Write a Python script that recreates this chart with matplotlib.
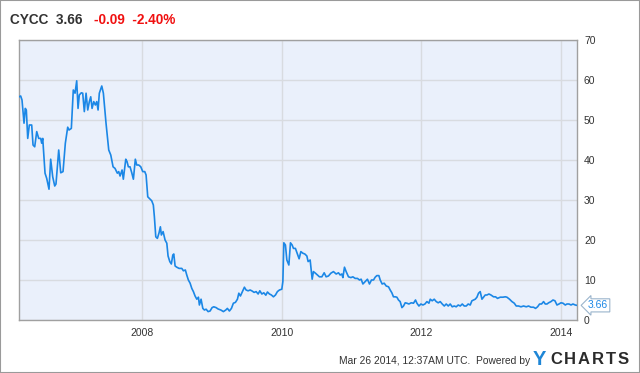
import matplotlib
matplotlib.use("Agg")
import matplotlib.pyplot as plt
from matplotlib.patches import Rectangle

plt.rcParams["font.family"] = ["Liberation Sans", "DejaVu Sans"]

TICKER = "CYCC"
LAST = 3.66
CHANGE = "-0.09"
CHANGE_PCT = "-2.40%"
STAMP = "Mar 26 2014, 12:37AM UTC.  Powered by"

YEAR_TICKS = [2008, 2010, 2012, 2014]
PRICE_TICKS = [0, 10, 20, 30, 40, 50, 60, 70]

# weekly-ish closing prices (decimal year, USD)
dates = [
    2006.235, 2006.259, 2006.278, 2006.307, 2006.325, 2006.340, 2006.360, 2006.383,
    2006.417, 2006.436, 2006.460, 2006.489, 2006.517, 2006.546, 2006.560, 2006.575,
    2006.608, 2006.632, 2006.665, 2006.689, 2006.718, 2006.747, 2006.765, 2006.804,
    2006.833, 2006.866, 2006.899, 2006.933, 2006.952, 2006.985, 2007.013, 2007.038,
    2007.062, 2007.081, 2007.099, 2007.128, 2007.148, 2007.171, 2007.196, 2007.220,
    2007.243, 2007.263, 2007.282, 2007.306, 2007.329, 2007.349, 2007.368, 2007.386,
    2007.421, 2007.444, 2007.482, 2007.521, 2007.550, 2007.583, 2007.611, 2007.644,
    2007.664, 2007.683, 2007.712, 2007.730, 2007.765, 2007.783, 2007.802, 2007.826,
    2007.851, 2007.874, 2007.902, 2007.922, 2007.951, 2007.980, 2008.008, 2008.037,
    2008.056, 2008.080, 2008.103, 2008.137, 2008.160, 2008.175, 2008.195, 2008.218,
    2008.242, 2008.261, 2008.275, 2008.300, 2008.328, 2008.353, 2008.371, 2008.396,
    2008.418, 2008.439, 2008.453, 2008.472, 2008.496, 2008.529, 2008.568, 2008.591,
    2008.619, 2008.639, 2008.662, 2008.687, 2008.711, 2008.734, 2008.758, 2008.783,
    2008.806, 2008.820, 2008.844, 2008.869, 2008.892, 2008.916, 2008.945, 2008.973,
    2009.002, 2009.026, 2009.059, 2009.088, 2009.127, 2009.164, 2009.198, 2009.221,
    2009.250, 2009.279, 2009.307, 2009.336, 2009.365, 2009.385, 2009.408, 2009.436,
    2009.465, 2009.489, 2009.518, 2009.547, 2009.575, 2009.604, 2009.633, 2009.662,
    2009.686, 2009.715, 2009.743, 2009.772, 2009.795, 2009.824, 2009.852, 2009.881,
    2009.910, 2009.938, 2009.967, 2010.001, 2010.016, 2010.030, 2010.053, 2010.073,
    2010.102, 2010.125, 2010.149, 2010.168, 2010.196, 2010.225, 2010.249, 2010.274,
    2010.302, 2010.331, 2010.360, 2010.378, 2010.407, 2010.436, 2010.454, 2010.483,
    2010.512, 2010.540, 2010.575, 2010.608, 2010.636, 2010.669, 2010.704, 2010.741,
    2010.780, 2010.813, 2010.837, 2010.861, 2010.876, 2010.899, 2010.923, 2010.956,
    2010.991, 2011.019, 2011.052, 2011.085, 2011.114, 2011.138, 2011.163, 2011.196,
    2011.228, 2011.257, 2011.286, 2011.315, 2011.339, 2011.363, 2011.392, 2011.411,
    2011.439, 2011.468, 2011.497, 2011.530, 2011.554, 2011.578, 2011.601, 2011.626,
    2011.650, 2011.673, 2011.697, 2011.722, 2011.745, 2011.769, 2011.793, 2011.822,
    2011.855, 2011.888, 2011.917, 2011.937, 2011.966, 2011.994, 2012.023, 2012.052,
    2012.080, 2012.109, 2012.128, 2012.156, 2012.185, 2012.214, 2012.242, 2012.271,
    2012.300, 2012.329, 2012.357, 2012.386, 2012.414, 2012.443, 2012.472, 2012.500,
    2012.529, 2012.558, 2012.587, 2012.615, 2012.644, 2012.672, 2012.701, 2012.725,
    2012.748, 2012.773, 2012.797, 2012.820, 2012.844, 2012.869, 2012.892, 2012.916,
    2012.940, 2012.969, 2012.998, 2013.035, 2013.064, 2013.092, 2013.131, 2013.170,
    2013.203, 2013.227, 2013.264, 2013.299, 2013.332, 2013.360, 2013.393, 2013.428,
    2013.465, 2013.504, 2013.537, 2013.571, 2013.608, 2013.637, 2013.666, 2013.695,
    2013.723, 2013.752, 2013.776, 2013.801, 2013.824, 2013.858, 2013.887, 2013.915,
    2013.944, 2013.973, 2014.001, 2014.030, 2014.063, 2014.087, 2014.116, 2014.145,
    2014.173, 2014.206, 2014.231,
]
prices = [
    55.8, 56.0, 55.0, 49.2, 52.9, 52.5, 45.4, 48.75,
    48.75, 43.75, 43.3, 47.1, 45.4, 45.4, 44.2, 45.4,
    36.7, 35.4, 32.7, 40.2, 35.8, 33.5, 34.0, 42.5,
    36.8, 37.1, 44.2, 48.2, 47.5, 47.9, 57.5, 56.7,
    59.8, 52.9, 56.25, 56.8, 56.7, 52.1, 56.7, 52.5,
    54.6, 55.8, 52.9, 54.6, 53.75, 54.6, 52.5, 56.7,
    58.5, 56.7, 49.2, 42.5, 41.25, 38.3, 37.9, 36.7,
    37.1, 36.0, 37.5, 35.2, 40.2, 39.6, 38.3, 38.3,
    36.8, 35.2, 40.2, 38.75, 38.75, 38.3, 37.1, 37.1,
    36.25, 30.8, 30.4, 29.8, 28.75, 25.8, 20.8, 20.4,
    21.8, 23.3, 21.25, 22.1, 20.0, 19.2, 16.0, 14.6,
    14.0, 16.25, 16.5, 13.5, 13.2, 12.9, 12.9, 12.3,
    12.5, 11.25, 10.0, 9.2, 7.9, 7.1, 6.0, 5.2,
    5.7, 3.75, 5.2, 2.9, 2.5, 2.7, 2.1, 2.25,
    3.1, 3.3, 3.1, 2.75, 2.5, 2.1, 2.5, 2.9,
    2.25, 2.9, 4.2, 4.4, 5.2, 6.7, 6.0, 7.1,
    8.2, 7.5, 7.3, 7.5, 7.25, 6.9, 7.1, 6.5,
    7.3, 6.5, 6.8, 6.2, 7.0, 6.5, 6.25, 5.8,
    6.25, 7.1, 7.5, 7.7, 9.6, 19.3, 18.75, 15.0,
    13.75, 19.3, 18.75, 17.9, 17.9, 16.5, 15.3, 17.1,
    16.7, 16.5, 16.0, 14.6, 15.0, 10.2, 12.1, 11.7,
    11.25, 10.8, 10.8, 11.8, 10.8, 11.0, 11.7, 12.1,
    11.5, 11.8, 11.25, 11.5, 10.6, 13.2, 12.1, 10.8,
    10.6, 10.8, 10.4, 10.4, 10.0, 10.2, 9.0, 9.6,
    10.2, 9.0, 10.0, 10.0, 10.7, 11.1, 11.1, 10.0,
    9.0, 9.2, 8.5, 8.3, 7.5, 6.8, 5.8, 5.8,
    5.7, 5.0, 4.6, 3.1, 3.5, 4.3, 4.2, 4.0,
    4.3, 4.2, 5.0, 4.2, 3.5, 4.0, 3.75, 4.0,
    4.6, 4.2, 5.2, 4.8, 5.2, 4.6, 4.3, 4.6,
    4.0, 3.5, 4.0, 3.5, 4.0, 3.3, 3.5, 3.3,
    3.75, 3.5, 4.0, 3.5, 3.5, 4.0, 3.75, 4.8,
    5.0, 5.2, 5.7, 6.7, 7.1, 5.2, 5.7, 6.25,
    6.25, 6.5, 6.25, 5.8, 5.8, 5.4, 5.7, 5.7,
    5.8, 5.7, 5.2, 4.6, 4.2, 3.5, 3.5, 3.3,
    3.5, 3.3, 3.5, 3.2, 3.2, 2.9, 3.3, 4.0,
    4.0, 4.6, 4.0, 4.0, 4.3, 4.6, 5.0, 4.8,
    3.75, 4.0, 4.3, 4.2, 3.75, 4.0, 4.0, 3.75,
    4.0, 3.75, 3.66,
]

LINE = "#1b87e6"
GRID = "#d8dbe0"
TEXT = "#333333"

fig = plt.figure(figsize=(6.4, 3.73), dpi=100)
ax = fig.add_axes([19 / 640, 53 / 373, 558 / 640, 280 / 373])
ax.set_facecolor("#eaf0fb")
ax.plot(dates, prices, color=LINE, linewidth=1.2, zorder=3)

ax.set_xlim(dates[0], dates[-1])
ax.set_ylim(0, 70)
ax.set_xticks(YEAR_TICKS)
ax.set_xticklabels([str(y) for y in YEAR_TICKS])
ax.set_yticks(PRICE_TICKS)
ax.yaxis.tick_right()
ax.tick_params(axis="both", length=0, labelsize=7.5, labelcolor=TEXT)
ax.tick_params(axis="x", pad=6)
ax.tick_params(axis="y", pad=5)
ax.grid(True, color=GRID, linewidth=1.0)
ax.set_axisbelow(True)
for side, sp in ax.spines.items():
    sp.set_color("#a0a0a0")
    sp.set_linewidth(1.0)

# last-price flag on the right edge
ax.annotate(f"{LAST:.2f}", xy=(dates[-1], LAST), xycoords="data",
            xytext=(8, 0), textcoords="offset points", ha="left", va="center",
            fontsize=7.5, color=LINE, annotation_clip=False,
            bbox=dict(boxstyle="larrow,pad=0.15", fc="white", ec="#9ab4cc", lw=0.8))

# header
fig.text(10 / 640, 1 - 20 / 373, f"{TICKER}  {LAST:.2f}", fontsize=9.8,
         fontweight="bold", color=TEXT, ha="left", va="center")
fig.text(94 / 640, 1 - 20 / 373, f"{CHANGE}  {CHANGE_PCT}", fontsize=9.8,
         fontweight="bold", color="#f01010", ha="left", va="center")

# footer
fig.text(530 / 640, 1 - 361 / 373, STAMP, fontsize=7.4, color=TEXT,
         ha="right", va="center")
fig.text(533 / 640, 1 - 359.5 / 373, "Y", fontsize=14.5, fontweight="bold",
         color="#1e86d6", ha="left", va="center")
for x_px, letter in zip([550, 564, 578, 592, 605.5, 617.5], "CHARTS"):
    fig.text(x_px / 640, 1 - 359.5 / 373, letter, fontsize=12, fontweight="bold",
             color="#2b2b2b", ha="left", va="center")

fig.patches.append(Rectangle((0, 0), 1, 1, transform=fig.transFigure,
                             fill=False, ec="#9a9a9a", lw=1.5))

fig.savefig("out.png", dpi=100)
